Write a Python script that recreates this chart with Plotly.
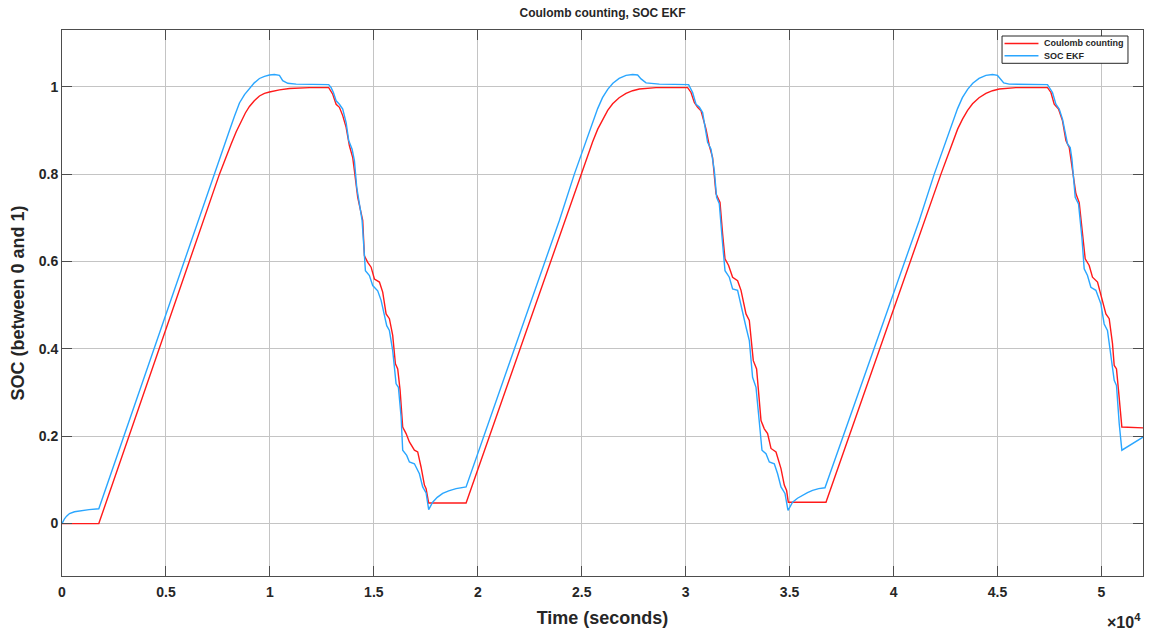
import plotly.graph_objects as go

# Coulomb-counting state of charge: time (s) and SOC
cc_time = [0, 1770, 7574, 7850, 8137, 8380, 8618, 8820, 9017, 9250, 9498, 9740, 9979,
           10460, 10940, 11902, 12830,
           13023, 13186, 13345, 13504, 13667, 13826, 13985, 14066, 14225, 14465,
           14547, 14706, 14869, 15028, 15269, 15427, 15591, 15749, 15908, 16038,
           16149, 16264, 16389, 16552, 16711, 16952, 17110, 17274, 17433, 17514,
           17639, 19438,
           24968, 25250, 25526, 25770, 26007, 26250, 26488, 26800, 27132, 27450,
           27772, 28200, 28575, 30095,
           30258, 30417, 30576, 30739, 30979, 31138, 31297, 31460, 31537, 31653,
           31778, 31893, 32066, 32259, 32499, 32663, 32903, 33062, 33254, 33413,
           33625, 33783, 33942, 34105, 34346, 34586, 34745, 34856, 34937, 36750,
           42280, 42562, 42838, 43082, 43318, 43562, 43800, 44112, 44444, 44762,
           45084, 45512, 45887, 47407,
           47571, 47729, 47936, 48128, 48292, 48451, 48609, 48773, 48932, 49090,
           49220, 49412, 49571, 49812, 50052, 50215, 50374, 50533, 50615, 50725,
           50822, 50983, 52000]
cc_soc = [0.0, 0.0, 0.800, 0.836, 0.869, 0.897, 0.922, 0.940, 0.955, 0.968, 0.979, 0.985, 0.988,
          0.993, 0.996, 0.998, 0.998,
          0.983, 0.960, 0.953, 0.934, 0.907, 0.865, 0.838, 0.808, 0.747, 0.694,
          0.613, 0.598, 0.587, 0.560, 0.553, 0.530, 0.480, 0.469, 0.431, 0.366,
          0.354, 0.305, 0.221, 0.206, 0.187, 0.168, 0.164, 0.129, 0.088, 0.080,
          0.047, 0.047,
          0.800, 0.838, 0.874, 0.903, 0.926, 0.946, 0.961, 0.975, 0.985, 0.991,
          0.995, 0.997, 0.998, 0.998,
          0.987, 0.964, 0.953, 0.945, 0.903, 0.865, 0.838, 0.755, 0.747, 0.735,
          0.663, 0.606, 0.591, 0.564, 0.556, 0.534, 0.480, 0.465, 0.373, 0.354,
          0.236, 0.217, 0.206, 0.172, 0.164, 0.126, 0.088, 0.076, 0.049, 0.049,
          0.800, 0.838, 0.874, 0.903, 0.926, 0.946, 0.961, 0.975, 0.985, 0.991,
          0.995, 0.997, 0.998, 0.998,
          0.987, 0.960, 0.949, 0.922, 0.877, 0.861, 0.808, 0.755, 0.735, 0.655,
          0.606, 0.591, 0.564, 0.553, 0.511, 0.480, 0.469, 0.412, 0.362, 0.354,
          0.305, 0.221, 0.219]

# Extended Kalman filter SOC estimate: time (s) and SOC
ekf_time = [0, 40, 120, 220, 361, 600, 842, 1300, 1770, 7300, 7680, 8055, 8300, 8536,
            8780, 9017, 9250, 9498, 9740, 9979, 10220, 10460, 10618, 10859, 11263, 12830,
            12946, 13056, 13186, 13345, 13504, 13667, 13792, 13956, 14066, 14177,
            14436, 14595, 14788, 14946, 15187, 15350, 15620, 15749, 15908, 16071,
            16182, 16312, 16389, 16581, 16711, 16952, 17192, 17351, 17514, 17639,
            17831, 18050, 18312, 18600, 18957, 19438,
            23925, 24646, 25000, 25400, 25767, 26000, 26250, 26500, 26800, 27132,
            27450, 27690, 27854, 28094, 28734, 30143,
            30335, 30498, 30657, 30816, 31056, 31220, 31379, 31489, 31619, 31778,
            31893, 32100, 32259, 32499, 32739, 32903, 33062, 33220, 33384, 33543,
            33672, 33865, 34024, 34264, 34423, 34586, 34778, 34923, 35144, 35380,
            35625, 35860, 36106, 36400, 36702,
            41237, 41958, 42312, 42712, 43079, 43312, 43562, 43812, 44112, 44444,
            44762, 45002, 45160, 45300, 45565, 47407,
            47646, 47810, 47970, 48128, 48369, 48499, 48581, 48739, 48898, 49061,
            49171, 49330, 49493, 49733, 49974, 50132, 50291, 50455, 50615, 50725,
            50855, 50983, 52000]
ekf_soc = [0.0, 0.005, 0.011, 0.017, 0.023, 0.027, 0.029, 0.032, 0.034, 0.800, 0.851, 0.900,
           0.933, 0.963, 0.982, 0.996, 1.009, 1.019, 1.024, 1.027, 1.028, 1.026, 1.014, 1.008,
           1.006, 1.005,
           0.998, 0.987, 0.968, 0.960, 0.949, 0.918, 0.877, 0.857, 0.831, 0.770,
           0.694, 0.579, 0.568, 0.545, 0.533, 0.511, 0.453, 0.442, 0.396, 0.320,
           0.312, 0.244, 0.168, 0.156, 0.141, 0.137, 0.114, 0.084, 0.070, 0.032,
           0.049, 0.060, 0.069, 0.075, 0.080, 0.084,
           0.694, 0.800, 0.848, 0.900, 0.950, 0.975, 0.994, 1.008, 1.019, 1.026,
           1.028, 1.027, 1.018, 1.009, 1.006, 1.005,
           0.987, 0.960, 0.954, 0.941, 0.873, 0.857, 0.808, 0.747, 0.732, 0.640,
           0.579, 0.564, 0.537, 0.534, 0.480, 0.450, 0.419, 0.335, 0.312, 0.236,
           0.168, 0.160, 0.141, 0.137, 0.114, 0.084, 0.069, 0.030, 0.049, 0.058,
           0.065, 0.071, 0.076, 0.080, 0.082,
           0.694, 0.800, 0.848, 0.900, 0.950, 0.975, 0.994, 1.008, 1.019, 1.026,
           1.028, 1.026, 1.016, 1.009, 1.006, 1.005,
           0.987, 0.960, 0.949, 0.926, 0.869, 0.861, 0.835, 0.747, 0.732, 0.655,
           0.583, 0.568, 0.541, 0.534, 0.503, 0.457, 0.442, 0.389, 0.328, 0.316,
           0.229, 0.168, 0.198]

x_tick_vals = [0, 5000, 10000, 15000, 20000, 25000, 30000, 35000, 40000, 45000, 50000]
x_tick_text = ["0", "0.5", "1", "1.5", "2", "2.5", "3", "3.5", "4", "4.5", "5"]
y_tick_vals = [0, 0.2, 0.4, 0.6, 0.8, 1.0]
y_tick_text = ["0", "0.2", "0.4", "0.6", "0.8", "1"]

series_names = ["Coulomb counting", "SOC EKF"]
series_colors = ["#ff1a1a", "#2aa6ff"]

FONT = "Liberation Sans, Arial, Helvetica, sans-serif"
INK = "#262626"
GRID = "#c4c4c4"
AXIS = "#4d4d4d"

fig = go.Figure()
for (t, soc), name, color in zip([(cc_time, cc_soc), (ekf_time, ekf_soc)], series_names, series_colors):
    fig.add_trace(go.Scatter(x=t, y=soc, mode="lines", name=name, showlegend=False,
                             line=dict(color=color, width=1.4)))

axis_common = dict(showline=True, linecolor=AXIS, linewidth=1, mirror="ticks",
                   ticks="inside", ticklen=10, tickcolor=AXIS, tickwidth=1,
                   showgrid=True, gridcolor=GRID, gridwidth=1, zeroline=False,
                   tickfont=dict(family=FONT, size=14, color=INK))

fig.update_xaxes(range=[0, 52000], tickvals=x_tick_vals,
                 ticktext=[f"<b>{t}</b>" for t in x_tick_text], ticklabelstandoff=3,
                 title=dict(text="<b>Time (seconds)</b>", font=dict(family=FONT, size=18, color=INK),
                            standoff=12),
                 **axis_common)
fig.update_yaxes(range=[-0.12, 1.13], tickvals=y_tick_vals,
                 ticktext=[f"<b>{t}</b>" for t in y_tick_text],
                 title=dict(text="<b>SOC (between 0 and 1)</b>", font=dict(family=FONT, size=18, color=INK),
                            standoff=9),
                 **axis_common)

# Compact boxed legend in the upper-right corner of the axes (paper coordinates)
box_x0, box_x1, box_y0, box_y1 = 0.8696, 0.9861, 0.9390, 0.9890
sample_x0, sample_x1, label_x = 0.8719, 0.9033, 0.9070
row_y = [0.9753, 0.9529]

shapes = [dict(type="rect", xref="paper", yref="paper", x0=box_x0, x1=box_x1, y0=box_y0, y1=box_y1,
               line=dict(color=INK, width=1), fillcolor="white", layer="above")]
annotations = []
for name, color, y in zip(series_names, series_colors, row_y):
    shapes.append(dict(type="line", xref="paper", yref="paper", x0=sample_x0, x1=sample_x1, y0=y, y1=y,
                       line=dict(color=color, width=1.4), layer="above"))
    annotations.append(dict(text=f"<b>{name}</b>", xref="paper", yref="paper", x=label_x, y=y,
                            xanchor="left", yanchor="middle", showarrow=False,
                            font=dict(family=FONT, size=9, color=INK)))

annotations.append(dict(text="<b>\u00d710<sup>4</sup></b>", xref="paper", yref="paper",
                        x=1.0, y=-0.060, xanchor="right", yanchor="top", showarrow=False,
                        font=dict(family=FONT, size=16, color=INK)))

fig.update_layout(
    width=1153, height=634,
    margin=dict(l=62, r=10, t=30, b=58),
    paper_bgcolor="white", plot_bgcolor="white",
    title=dict(text="<b>Coulomb counting, SOC EKF</b>", x=0.5, xref="paper", xanchor="center",
               y=0.9795, yanchor="middle", font=dict(family=FONT, size=12, color=INK)),
    showlegend=False,
    shapes=shapes,
    annotations=annotations,
)

fig.write_html("out.html")
